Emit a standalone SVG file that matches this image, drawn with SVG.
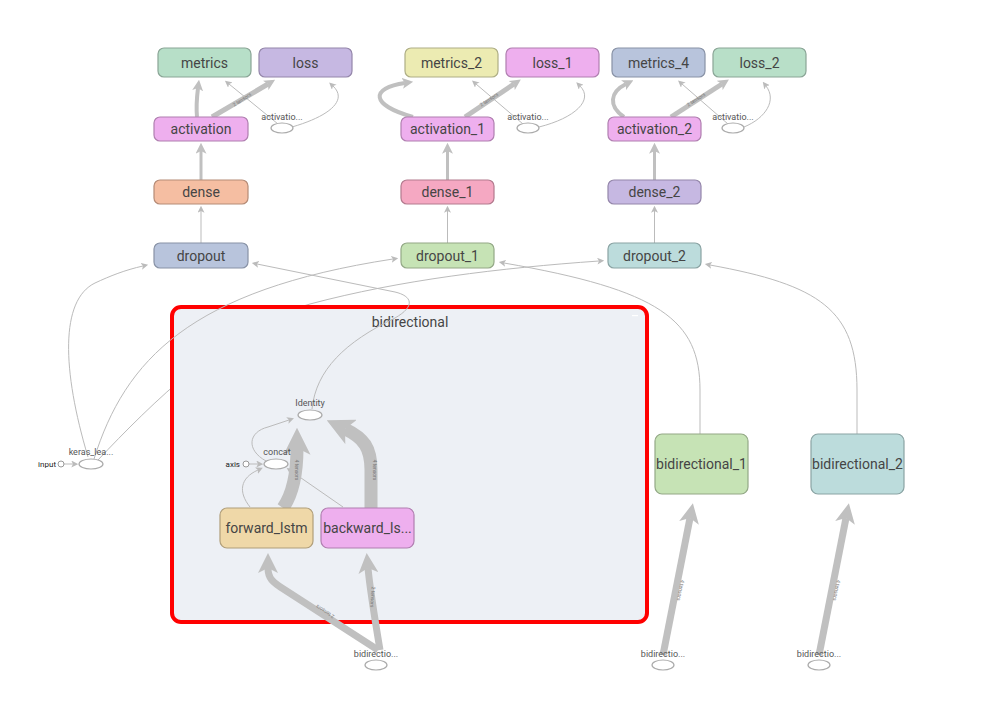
<svg xmlns="http://www.w3.org/2000/svg" width="987" height="707" viewBox="0 0 987 707">
<defs>
<style>
.n{stroke-width:1.2}
.t{font-family:Roboto,"Liberation Sans",sans-serif;font-size:14px;fill:#454545;text-anchor:middle}
.s{font-family:Roboto,"Liberation Sans",sans-serif;font-size:9px;fill:#555;text-anchor:middle}
.x{font-family:Roboto,"Liberation Sans",sans-serif;font-size:8px;fill:#222;text-anchor:end}
.el{font-family:Roboto,"Liberation Sans",sans-serif;font-size:5px;fill:#777;text-anchor:middle}
.e1{fill:none;stroke:#bbb;stroke-width:1;marker-end:url(#a1)}
.e2{fill:none;stroke:#c0c0c0;marker-end:url(#a2)}
.e3{fill:none;stroke:#c0c0c0;stroke-width:13;marker-end:url(#a3)}
.e4{fill:none;stroke:#c0c0c0;stroke-width:7;marker-end:url(#a4)}
.ov{fill:#fff;stroke:#aaa;stroke-width:1.2}
</style>
<marker id="a1" markerUnits="userSpaceOnUse" markerWidth="7" markerHeight="7" viewBox="0 0 10 10" refX="2.5" refY="5" orient="auto"><path d="M0,0 L10,5 L0,10 L2.5,5z" fill="#bbb"/></marker>
<marker id="a2" markerUnits="userSpaceOnUse" markerWidth="11" markerHeight="11" viewBox="0 0 10 10" refX="2.5" refY="5" orient="auto"><path d="M0,0 L10,5 L0,10 L2.5,5z" fill="#c0c0c0"/></marker>
<marker id="a3" markerUnits="userSpaceOnUse" markerWidth="27" markerHeight="27" viewBox="0 0 10 10" refX="2.5" refY="5" orient="auto"><path d="M0,0 L10,5 L0,10 L2.5,5z" fill="#c0c0c0"/></marker>
<marker id="a4" markerUnits="userSpaceOnUse" markerWidth="20" markerHeight="20" viewBox="0 0 10 10" refX="2.5" refY="5" orient="auto"><path d="M0,0 L10,5 L0,10 L2.5,5z" fill="#c0c0c0"/></marker>
</defs>
<rect width="987" height="707" fill="#fff"/>

<!-- edges behind group box -->
<g id="edges-back">
<path class="e1" d="M98,460 C150,405 230,325 310,304 C400,280 500,268 599,261"/>
</g>

<!-- bidirectional group -->
<g id="bidirectional">
<rect x="172" y="307" width="475" height="315" rx="9" fill="#edf0f5" stroke="#ff0000" stroke-width="4"/>
<text class="t" x="410" y="327" font-size="13">bidirectional</text>
<rect x="632" y="315" width="6" height="1.2" fill="#fff"/>
</g>

<g id="connectors">
<!-- column 1 -->
<path class="e1" d="M201,243 L201,211"/>
<path class="e2" stroke-width="3" d="M201,180 L201,151"/>
<path class="e2" stroke-width="4" d="M197,117 C196,106 197,96 198,88"/>
<path class="e2" stroke-width="5" d="M212,117 L268,84"/>
<path class="e1" d="M278,124 L229,84"/>
<path class="e1" d="M292,127 C330,116 348,100 333,86"/>
<!-- column 2 -->
<path class="e1" d="M447.5,243 L447.5,211"/>
<path class="e2" stroke-width="3" d="M447.5,180 L447.5,151"/>
<path class="e2" stroke-width="4" d="M413,117 C370,105 370,88 405,83"/>
<path class="e2" stroke-width="5" d="M465,117 L514,84"/>
<path class="e1" d="M523,124 L476,84"/>
<path class="e1" d="M539,127 C575,118 594,100 580,86"/>
<!-- column 3 -->
<path class="e1" d="M654.5,243 L654.5,211"/>
<path class="e2" stroke-width="3" d="M654.5,180 L654.5,151"/>
<path class="e2" stroke-width="4" d="M624,117 C608,106 610,92 626,84"/>
<path class="e2" stroke-width="5" d="M671,117 L722,84"/>
<path class="e1" d="M728,124 L682,84"/>
<path class="e1" d="M744,127 C766,118 777,100 766,86"/>
<!-- left -->
<path class="e1" d="M64,464 L73,464"/>
<path class="e1" d="M88,457 C62,370 60,300 95,283 C110,276 125,270 143,266"/>
<path class="e1" d="M94,459 C125,360 190,290 393,259"/>
<path class="e1" d="M312,409 C316,370 345,342 395,318 C416,306 412,296 395,292 L257,264"/>
<path class="e1" stroke-width="1.5" d="M700,434 L700,390 C700,320 660,290 504,263"/>
<path class="e1" stroke-width="1.5" d="M857,434 L857,390 C857,310 820,285 710,265"/>
<!-- inside group -->
<path class="e1" d="M249,464 L258,464"/>
<path class="e1" d="M250,507 C238,492 240,478 258,470"/>
<path class="e1" d="M266,461 C246,450 248,432 268,427 L289,420"/>
<path class="e1" d="M343,507 L291,471"/>
<path class="e3" d="M283,508 C292,495 297,478 297,448"/>
<path class="e3" d="M371,508 L371,470 C371,448 364,438 345,429"/>
<path class="e4" d="M378,650 L285,590 C272,582 268,578 268,568"/>
<path class="e4" d="M380,650 C375,620 370,590 368,568"/>
<path class="e4" d="M663,655 L690,518"/>
<path class="e4" d="M819,655 L846,518"/>
<!-- edge labels -->
<text class="el" transform="translate(243,101) rotate(-34)">2 tensors</text>
<text class="el" transform="translate(490,101) rotate(-34)">2 tensors</text>
<text class="el" transform="translate(697,101) rotate(-33)">2 tensors</text>
<text class="el" transform="translate(295,470) rotate(90)">4 tensors</text>
<text class="el" transform="translate(373,470) rotate(90)">4 tensors</text>
<text class="el" transform="translate(326,610) rotate(213)">2 tensors</text>
<text class="el" transform="translate(371,597) rotate(94)">2 tensors</text>
<text class="el" transform="translate(679,590) rotate(101)">4 tensors</text>
<text class="el" transform="translate(835,590) rotate(101)">4 tensors</text>
</g>

<!-- top column 1 -->
<g id="metrics"><rect class="n" x="158" y="48" width="93" height="29" rx="6" fill="#b7dfc8" stroke="#8aa596"/><text class="t" x="204.5" y="67.5">metrics</text></g>
<g id="loss"><rect class="n" x="259" y="48" width="93" height="29" rx="6" fill="#c6b8e2" stroke="#9486aa"/><text class="t" x="305.5" y="67.5">loss</text></g>
<g id="activation"><rect class="n" x="154" y="117" width="94" height="24" rx="6" fill="#eeafee" stroke="#b07fb0"/><text class="t" x="201" y="134">activation</text></g>
<g id="activation_ell"><ellipse class="ov" cx="282" cy="128" rx="11" ry="5"/><text class="s" x="282" y="120">activatio...</text></g>
<g id="dense"><rect class="n" x="154" y="180" width="94" height="24" rx="6" fill="#f5bea2" stroke="#b58b76"/><text class="t" x="201" y="197">dense</text></g>
<g id="dropout"><rect class="n" x="154" y="243" width="94" height="25" rx="6" fill="#b8c4dc" stroke="#8892a6"/><text class="t" x="201" y="260.5">dropout</text></g>

<!-- top column 2 -->
<g id="metrics_2"><rect class="n" x="405" y="48" width="93" height="29" rx="6" fill="#ecebb2" stroke="#aeae85"/><text class="t" x="451.5" y="67.5">metrics_2</text></g>
<g id="loss_1"><rect class="n" x="506" y="48" width="93" height="29" rx="6" fill="#eeafee" stroke="#b07fb0"/><text class="t" x="552.5" y="67.5">loss_1</text></g>
<g id="activation_1"><rect class="n" x="401" y="117" width="93" height="24" rx="6" fill="#eeafee" stroke="#b07fb0"/><text class="t" x="447.5" y="134">activation_1</text></g>
<g id="activation_1_ell"><ellipse class="ov" cx="528" cy="128" rx="11" ry="5"/><text class="s" x="528" y="120">activatio...</text></g>
<g id="dense_1"><rect class="n" x="401" y="180" width="93" height="24" rx="6" fill="#f5a8c2" stroke="#b37a8e"/><text class="t" x="447.5" y="197">dense_1</text></g>
<g id="dropout_1"><rect class="n" x="401" y="243" width="93" height="25" rx="6" fill="#c6e3b5" stroke="#93a886"/><text class="t" x="447.5" y="260.5">dropout_1</text></g>

<!-- top column 3 -->
<g id="metrics_4"><rect class="n" x="612" y="48" width="93" height="29" rx="6" fill="#b8c4dc" stroke="#8892a6"/><text class="t" x="658.5" y="67.5">metrics_4</text></g>
<g id="loss_2"><rect class="n" x="713" y="48" width="93" height="29" rx="6" fill="#b8dfc8" stroke="#8aa596"/><text class="t" x="759.5" y="67.5">loss_2</text></g>
<g id="activation_2"><rect class="n" x="608" y="117" width="93" height="24" rx="6" fill="#eeafee" stroke="#b07fb0"/><text class="t" x="654.5" y="134">activation_2</text></g>
<g id="activation_2_ell"><ellipse class="ov" cx="733" cy="128" rx="11" ry="5"/><text class="s" x="733" y="120">activatio...</text></g>
<g id="dense_2"><rect class="n" x="608" y="180" width="93" height="24" rx="6" fill="#c6b8e2" stroke="#9486aa"/><text class="t" x="654.5" y="197">dense_2</text></g>
<g id="dropout_2"><rect class="n" x="608" y="243" width="93" height="25" rx="6" fill="#bcdcdc" stroke="#8aa3a3"/><text class="t" x="654.5" y="260.5">dropout_2</text></g>

<!-- left -->
<g id="input"><circle cx="61" cy="464" r="3" fill="#fff" stroke="#999"/><text class="x" x="56" y="467">input</text></g>
<g id="keras_learning_phase"><ellipse class="ov" cx="91" cy="464" rx="12" ry="5"/><text class="s" x="91" y="455">keras_lea...</text></g>

<!-- inside group -->
<g id="axis"><circle cx="246" cy="464" r="3" fill="#fff" stroke="#999"/><text class="x" x="240" y="467">axis</text></g>
<g id="concat"><ellipse class="ov" cx="276" cy="464" rx="12" ry="5"/><text class="s" x="277" y="455">concat</text></g>
<g id="Identity"><ellipse class="ov" cx="310" cy="415" rx="12" ry="5"/><text class="s" x="310" y="406">Identity</text></g>
<g id="forward_lstm"><rect class="n" x="220" y="508" width="93" height="40" rx="7" fill="#efd8a8" stroke="#b09e7a"/><text class="t" x="266.5" y="533">forward_lstm</text></g>
<g id="backward_lstm"><rect class="n" x="321" y="508" width="93" height="40" rx="7" fill="#eeafee" stroke="#b07fb0"/><text class="t" x="367.5" y="533">backward_ls...</text></g>

<!-- right -->
<g id="bidirectional_1"><rect class="n" x="655" y="434" width="93" height="60" rx="7" fill="#c6e3b5" stroke="#93a886"/><text class="t" x="701.5" y="469" font-size="12">bidirectional_1</text></g>
<g id="bidirectional_2"><rect class="n" x="811" y="434" width="93" height="60" rx="7" fill="#bcdcdc" stroke="#8aa3a3"/><text class="t" x="857.5" y="469" font-size="12">bidirectional_2</text></g>

<!-- bottom inputs -->
<g id="bidir_in_0"><ellipse class="ov" cx="376" cy="665" rx="11" ry="5"/><text class="s" x="376" y="657">bidirectio...</text></g>
<g id="bidir_in_1"><ellipse class="ov" cx="663" cy="665" rx="11" ry="5"/><text class="s" x="663" y="657">bidirectio...</text></g>
<g id="bidir_in_2"><ellipse class="ov" cx="819" cy="665" rx="11" ry="5"/><text class="s" x="819" y="657">bidirectio...</text></g>
</svg>
